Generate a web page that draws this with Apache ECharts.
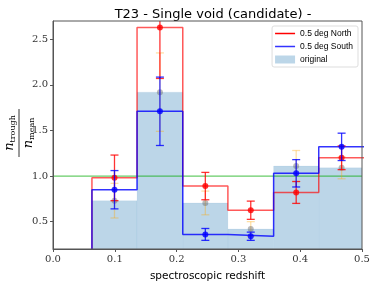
<!DOCTYPE html>
<html><head><meta charset="utf-8">
<script src="https://cdn.jsdelivr.net/npm/echarts@6/dist/echarts.min.js"></script>
<style>html,body{margin:0;padding:0;background:#fff}#c{width:374px;height:287px}</style>
</head><body><div id="c"></div>
<script>
const binEdges = [0.063, 0.136, 0.21, 0.283, 0.357, 0.43, 0.504];
const binCenters = [0.0995, 0.173, 0.2465, 0.32, 0.3935, 0.467];
const northVals = [0.98, 2.63, 0.89, 0.625, 0.82, 1.20];
const northErr  = [0.25, 0.56, 0.15, 0.10, 0.12, 0.13];
const southVals = [0.85, 1.71, 0.36, 0.34, 1.03, 1.32];
const southErr  = [0.21, 0.375, 0.065, 0.045, 0.15, 0.15];
const origVals  = [0.73, 1.92, 0.705, 0.42, 1.11, 1.09];
const origErr   = [0.19, 0.43, 0.13, 0.08, 0.17, 0.12];
const xTicks = [0, 0.1, 0.2, 0.3, 0.4, 0.5];
const yTicks = [0.5, 1.0, 1.5, 2.0, 2.5];
const refLine = 1.0;

function stepData(vals){
  const d = [[binEdges[0], 0]];
  vals.forEach((v,i)=>d.push([binEdges[i], v]));
  d.push([binEdges[binEdges.length-1], vals[vals.length-1]]);
  return d;
}
function errData(vals, errs){ return vals.map((v,i)=>[binCenters[i], v, v-errs[i], v+errs[i]]); }
function errSeries(vals, errs, color, z){
  return {type:'custom', z:z, silent:true, clip:true, data: errData(vals, errs),
    encode:{x:0, y:[1,2,3]},
    renderItem:function(params, api){
      const lo = api.coord([api.value(0), api.value(2)]);
      const hi = api.coord([api.value(0), api.value(3)]);
      const w = 4;
      const st = {stroke: color, lineWidth: 1.3, fill:null};
      return {type:'group', children:[
        {type:'line', shape:{x1:lo[0], y1:lo[1], x2:hi[0], y2:hi[1]}, style:st},
        {type:'line', shape:{x1:lo[0]-w, y1:lo[1], x2:lo[0]+w, y2:lo[1]}, style:st},
        {type:'line', shape:{x1:hi[0]-w, y1:hi[1], x2:hi[0]+w, y2:hi[1]}, style:st}
      ]};
    }};
}
function pts(vals, color, z, name){
  return {type:'scatter', name:name, z:z, symbol:'circle', symbolSize:6, itemStyle:{color:color}, silent:true,
    data: vals.map((v,i)=>[binCenters[i], v])};
}
const chart = echarts.init(document.getElementById('c'), null, {renderer:'canvas'});
const serif = "'DejaVu Serif', 'Liberation Serif', serif";
const sans = "'DejaVu Sans', sans-serif";
const lsans = "'Liberation Sans', Arial, sans-serif";
chart.setOption({
  animation:false,
  title:{text:'T23 - Single void (candidate) -', left:208, textAlign:'center', top:3,
    textStyle:{fontFamily:sans, fontSize:13, fontWeight:'normal', color:'#000'}},
  grid:{left:53, right:12, top:21, bottom:35, show:true, z:20, borderColor:'#555', borderWidth:1, backgroundColor:'transparent'},
  legend:{right:16, top:26, orient:'vertical', itemGap:4, itemWidth:20, itemHeight:8,
    padding:[3,5,3,3], borderColor:'#ddd', borderWidth:1, borderRadius:2, backgroundColor:'rgba(255,255,255,0.8)',
    textStyle:{fontFamily:lsans, fontSize:8.5, color:'#000'},
    data:[{name:'0.5 deg North', icon:'path://M0,0H20V1.5H0Z', itemStyle:{color:'#ff0000'}},
          {name:'0.5 deg South', icon:'path://M0,0H20V1.5H0Z', itemStyle:{color:'#3333ff'}},
          {name:'original', icon:'rect', itemStyle:{color:'#bcd6e8'}}]},
  xAxis:{type:'value', min:0, max:0.5, interval:0.1, z:20,
    name:'spectroscopic redshift', nameLocation:'middle', nameGap:22,
    nameTextStyle:{fontFamily:sans, fontSize:10.5, color:'#000'},
    axisLine:{show:true, lineStyle:{color:'#555'}},
    axisTick:{show:true, length:3, lineStyle:{color:'#555'}},
    axisLabel:{fontFamily:serif, fontSize:10, color:'#333', margin:5, formatter:v=>v.toFixed(1)},
    splitLine:{show:false}},
  yAxis:{type:'value', min:0.2, max:2.7, z:20,
    axisLine:{show:true, lineStyle:{color:'#555'}},
    axisTick:{show:true, length:3, customValues:yTicks, lineStyle:{color:'#555'}},
    axisLabel:{fontFamily:serif, fontSize:10, color:'#333', margin:5, customValues:yTicks, formatter:v=>v.toFixed(1)},
    splitLine:{show:false}},
  graphic:[{type:'group', x:19, y:133, rotation:Math.PI/2, children:[
    {type:'line', shape:{x1:-24, y1:0, x2:24, y2:0}, style:{stroke:'#000', lineWidth:0.8}},
    {type:'text', x:0, y:-2, style:{text:'{n|n}{s|trough}', align:'center', verticalAlign:'bottom',
      rich:{n:{fontFamily:serif, fontStyle:'italic', fontSize:13, color:'#000'}, s:{fontFamily:serif, fontSize:8, color:'#000', padding:[7,0,0,0]}}}},
    {type:'text', x:0, y:2, style:{text:'{n|n}{s|mean}', align:'center', verticalAlign:'top',
      rich:{n:{fontFamily:serif, fontStyle:'italic', fontSize:13, color:'#000'}, s:{fontFamily:serif, fontSize:8, color:'#000', padding:[7,0,0,0]}}}}
  ]}],
  series:[
    {type:'custom', name:'original', z:1, clip:true, silent:true,
      data: origVals.map((v,i)=>[binEdges[i], binEdges[i+1], v]),
      encode:{x:[0,1], y:2},
      itemStyle:{color:'#bcd6e8'},
      renderItem:function(params, api){
        const a = api.coord([api.value(0), api.value(2)]);
        const b = api.coord([api.value(1), 0]);
        return {type:'rect', shape:{x:a[0], y:a[1], width:b[0]-a[0], height:b[1]-a[1]},
          style:{fill:'#bcd6e8', stroke:'rgba(31,119,180,0.06)', lineWidth:1}};
      }},
    {type:'line', z:2, silent:true, symbol:'none', data:[[0, refLine],[0.5, refLine]],
      lineStyle:{color:'rgba(0,170,0,0.6)', width:1.3}},
    errSeries(origVals, origErr, 'rgba(255,165,0,0.35)', 3),
    pts(origVals, 'rgba(110,110,110,0.6)', 4, 'origpts'),
    {type:'line', name:'0.5 deg North', z:5, silent:true, step:'end', symbol:'none', data:stepData(northVals),
      lineStyle:{color:'rgba(255,0,0,0.65)', width:1.5}, itemStyle:{color:'#ff0000'}},
    {type:'line', name:'0.5 deg South', z:6, silent:true, step:'end', symbol:'none', data:stepData(southVals),
      lineStyle:{color:'rgba(0,0,255,0.8)', width:1.5}, itemStyle:{color:'#3333ff'}},
    errSeries(northVals, northErr, 'rgba(255,0,0,0.8)', 7),
    pts(northVals, '#ff0000', 8, 'npts'),
    errSeries(southVals, southErr, 'rgba(0,0,255,0.8)', 9),
    pts(southVals, '#0000ff', 10, 'spts')
  ]
});
</script></body></html>
